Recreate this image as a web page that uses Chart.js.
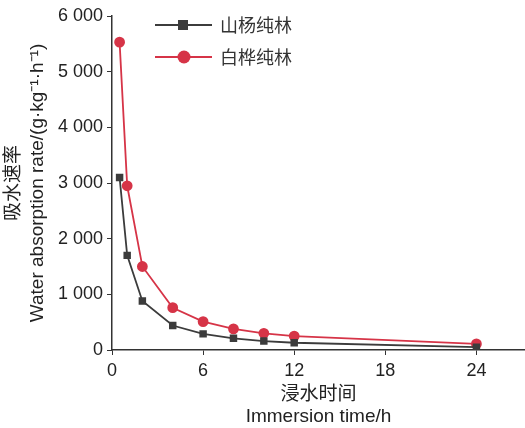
<!DOCTYPE html>
<html>
<head>
<meta charset="utf-8">
<script src="https://cdn.jsdelivr.net/npm/chart.js"></script>
<style>
  html, body { margin: 0; padding: 0; background: #fff; }
  #wrap { width: 525px; height: 428px; position: relative; }
</style>
</head>
<body>
<div id="wrap"><canvas id="c"></canvas></div>
<script>
// 数据
const times = [0.5, 1, 2, 4, 6, 8, 10, 12, 24];
const shanyang = [3100, 1700, 880, 440, 290, 210, 160, 130, 50];   // 山杨纯林
const baihua = [5530, 2950, 1500, 760, 510, 380, 300, 250, 110];   // 白桦纯林
const seriesNames = ['山杨纯林', '白桦纯林'];
const xTicks = [0, 6, 12, 18, 24];
const yTicks = [0, 1000, 2000, 3000, 4000, 5000, 6000];

const FONT = 'Liberation Sans, Arial, "Noto Sans CJK SC", sans-serif';
const BLACK = '#3c3c3c';
const RED = '#d63447';

// 千位空格
function fmt(v) {
    return String(v).replace(/\B(?=(\d{3})+(?!\d))/g, ' ');
}

// 自绘图例：线段 + 标记
const legendPlugin = {
    id: 'lineLegend',
    afterDraw(chart) {
        const ctx = chart.ctx;
        const items = [
            { name: seriesNames[0], color: BLACK, shape: 'rect', y: 25 },
            { name: seriesNames[1], color: RED, shape: 'circle', y: 57 }
        ];
        ctx.save();
        items.forEach(it => {
            ctx.strokeStyle = it.color;
            ctx.lineWidth = 2;
            ctx.beginPath();
            ctx.moveTo(155, it.y);
            ctx.lineTo(212, it.y);
            ctx.stroke();
            ctx.fillStyle = it.color;
            if (it.shape === 'rect') {
                ctx.fillRect(178, it.y - 5, 10, 10);
            } else {
                ctx.beginPath();
                ctx.arc(184, it.y, 6.5, 0, Math.PI * 2);
                ctx.fill();
            }
            ctx.fillStyle = '#333';
            ctx.font = '18px "Noto Sans CJK SC", sans-serif';
            ctx.textBaseline = 'middle';
            ctx.fillText(it.name, 220, it.y);
        });
        ctx.restore();
    }
};

new Chart(document.getElementById('c'), {
    type: 'line',
    data: {
        datasets: [{
            label: seriesNames[0],
            data: times.map((t, i) => ({ x: t, y: shanyang[i] })),
            borderColor: BLACK,
            backgroundColor: BLACK,
            borderWidth: 1.8,
            pointStyle: 'rect',
            pointRadius: 4,
            tension: 0
        }, {
            label: seriesNames[1],
            data: times.map((t, i) => ({ x: t, y: baihua[i] })),
            borderColor: RED,
            backgroundColor: RED,
            borderWidth: 1.8,
            pointStyle: 'circle',
            pointRadius: 4.5,
            tension: 0
        }]
    },
    options: {
        responsive: true,
        maintainAspectRatio: false,
        animation: false,
        layout: { autoPadding: false, padding: { top: 16, right: 0, left: 0, bottom: 0 } },
        plugins: {
            legend: { display: false },
            tooltip: { enabled: false }
        },
        scales: {
            x: {
                type: 'linear',
                min: 0,
                max: 27.2,
                afterBuildTicks: s => { s.ticks = xTicks.map(v => ({ value: v })); },
                afterFit: s => { s.height = 78; },
                grid: { drawOnChartArea: false, drawTicks: true, tickLength: 5, color: '#333' },
                border: { display: true, color: '#333', width: 1.5 },
                ticks: { color: '#222', font: { family: FONT, size: 18 }, padding: 5 },
                title: {
                    display: true,
                    text: ['浸水时间', 'Immersion time/h'],
                    color: '#222',
                    font: { family: FONT, size: 19, lineHeight: 1.15 },
                    padding: { top: 2, bottom: 0 }
                }
            },
            y: {
                min: 0,
                max: 6000,
                afterBuildTicks: s => { s.ticks = yTicks.map(v => ({ value: v })); },
                afterFit: s => { s.width = 112; },
                grid: { drawOnChartArea: false, drawTicks: true, tickLength: 5, color: '#333' },
                border: { display: true, color: '#333', width: 1.5 },
                ticks: { color: '#222', font: { family: FONT, size: 18 }, padding: 4, callback: v => fmt(v) },
                title: {
                    display: true,
                    text: ['吸水速率', 'Water absorption rate/(g·kg⁻¹·h⁻¹)'],
                    color: '#222',
                    font: { family: FONT, size: 19, lineHeight: 1.3 },
                    padding: { top: 1, bottom: 0 }
                }
            }
        }
    },
    plugins: [legendPlugin]
});
</script>
</body>
</html>
